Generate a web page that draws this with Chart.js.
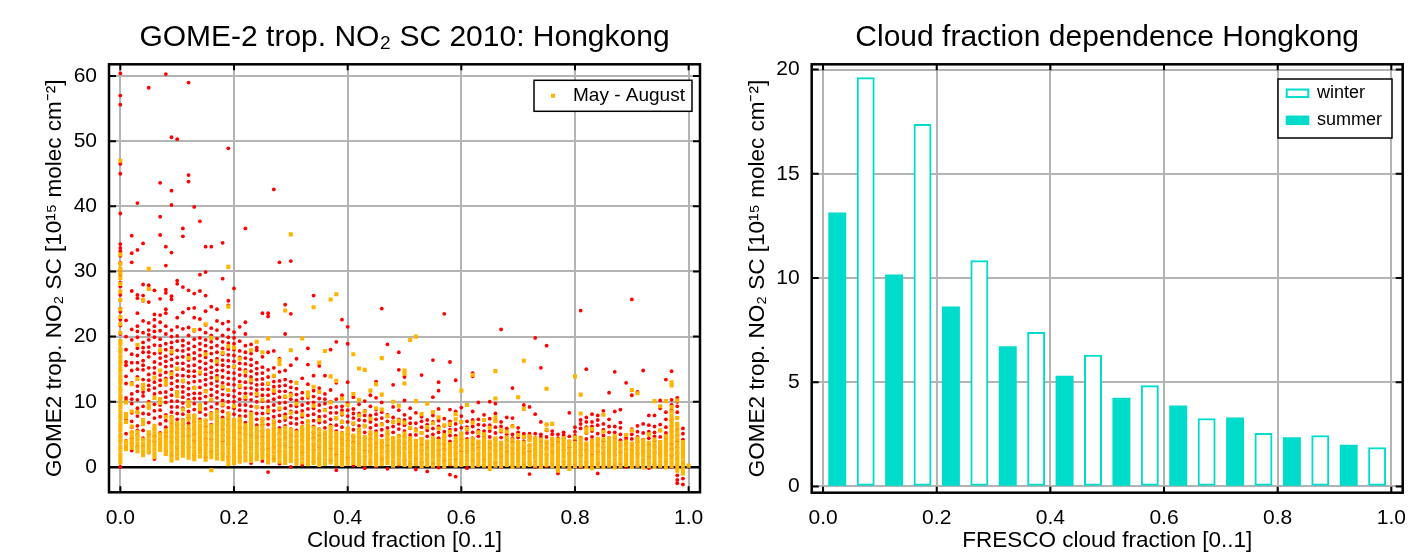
<!DOCTYPE html>
<html>
<head>
<meta charset="utf-8">
<script src="https://cdn.jsdelivr.net/npm/chart.js@4.4.1/dist/chart.umd.min.js"></script>
<style>
  html, body { margin: 0; padding: 0; background: #fff; overflow: hidden; }
  #wrap { position: relative; width: 1412px; height: 555px; }
  .panel { position: absolute; top: 0; height: 555px; }
</style>
</head>
<body>
<div id="wrap">
  <div class="panel" style="left:0;width:710px"><canvas id="scatterChart"></canvas></div>
  <div class="panel" style="left:710px;width:702px"><canvas id="barChart"></canvas></div>
</div>
<script>
// Left panel: one column per cloud fraction step of 0.01 (index 0 -> 0.00 ... 100 -> 1.00)
// all observations (red)
const allDaysNO2 = [
  [0, 20.4, 21.7, 22.6, 23.8, 24.3, 25.6, 26.4, 27.7, 28.3, 29.6, 30.2, 31.3, 32.4, 33.1, 33.6, 34.2, 38.9, 45.0, 46.5, 55.6, 57.0, 60.4],
  [2.8, 5.1, 7.3, 10.2, 10.6, 15.6, 16.1, 18.0, 22.5, 4.0, 12.8, 13.9, 20.0],
  [2.5, 3.6, 4.4, 6.1, 8.3, 9.7, 11.2, 12.9, 14.8, 17.3, 21.1, 27.0, 31.4, 32.8, 35.5, 5.3, 7.0, 10.4, 16.0, 19.5],
  [3.1, 4.9, 6.3, 7.8, 9.0, 11.6, 12.4, 13.8, 16.0, 18.2, 19.9, 21.6, 23.6, 25.9, 26.4, 33.3, 40.5, 5.6, 8.4, 10.3, 15.0, 17.1, 20.8],
  [1.9, 3.3, 5.6, 7.0, 9.3, 10.9, 12.1, 14.9, 16.3, 17.6, 19.1, 20.6, 25.5, 26.3, 28.0, 34.3, 4.4, 8.2, 11.5, 13.4, 15.6, 18.3, 22.4],
  [2.2, 4.0, 6.8, 8.1, 10.0, 11.8, 13.3, 15.2, 16.9, 18.4, 20.3, 22.1, 25.3, 27.9, 58.2, 5.0, 9.1, 12.5, 14.2, 17.6, 19.5, 21.0],
  [1.2, 3.9, 5.8, 7.5, 9.6, 11.2, 13.0, 14.4, 16.1, 18.7, 20.8, 22.6, 23.4, 27.1, 4.7, 8.6, 12.1, 15.2, 17.4, 19.9, 21.6],
  [3.5, 5.2, 6.6, 8.7, 10.4, 12.5, 14.1, 15.8, 17.5, 19.6, 22.2, 23.3, 25.8, 35.6, 38.4, 43.6, 4.3, 7.7, 9.5, 11.4, 13.3, 16.7, 18.6, 20.9],
  [2.4, 4.6, 6.1, 8.0, 9.9, 11.5, 13.6, 15.4, 17.0, 18.9, 20.4, 23.6, 24.2, 26.7, 27.2, 30.9, 33.8, 60.3, 5.3, 7.1, 10.7, 12.6, 14.5, 16.2, 18.0, 21.6],
  [1.7, 3.8, 5.5, 7.7, 9.2, 11.0, 12.8, 14.6, 16.5, 18.3, 20.0, 21.0, 25.7, 26.2, 32.9, 40.2, 42.4, 50.6, 4.6, 6.6, 8.4, 10.1, 11.9, 13.7, 15.5, 17.4, 19.1],
  [2.9, 4.3, 6.4, 8.2, 10.1, 11.4, 13.2, 15.0, 16.8, 19.3, 20.1, 22.9, 28.1, 28.6, 50.3, 5.3, 7.3, 9.2, 12.3, 14.1, 15.9, 17.9, 21.5],
  [2.1, 3.6, 5.9, 7.2, 9.0, 10.7, 12.3, 14.0, 15.9, 17.8, 19.4, 23.7, 27.6, 35.4, 36.6, 4.7, 6.5, 8.1, 9.8, 11.5, 13.1, 15.0, 16.9, 18.6, 21.2],
  [3.0, 4.8, 6.7, 8.5, 10.3, 12.0, 13.9, 15.5, 17.2, 19.0, 21.4, 24.3, 27.1, 43.8, 44.8, 59.0, 5.7, 7.6, 9.4, 11.1, 12.9, 14.7, 16.4, 18.1, 20.2],
  [1.8, 4.1, 6.0, 7.9, 9.7, 11.3, 13.1, 14.7, 16.6, 18.5, 20.9, 22.9, 24.4, 26.6, 39.9, 5.0, 6.9, 8.8, 10.5, 12.2, 13.9, 15.6, 17.5, 19.6],
  [2.7, 4.5, 6.2, 8.4, 10.5, 12.2, 14.3, 16.2, 18.0, 19.8, 22.7, 27.0, 29.5, 37.7, 5.3, 7.3, 9.4, 11.3, 13.2, 15.2, 17.1, 18.9, 21.1],
  [1.5, 3.4, 5.3, 7.1, 8.9, 10.8, 12.6, 14.2, 15.9, 17.7, 19.5, 21.8, 23.9, 26.3, 29.9, 33.8, 4.3, 6.2, 8.0, 9.8, 11.7, 13.4, 15.0, 16.8, 18.6, 20.6],
  [2.3, 4.2, 6.5, 8.3, 10.2, 11.9, 13.7, 15.3, 17.4, 19.2, 21.3, 24.6, 33.8, 5.3, 7.4, 9.2, 11.0, 12.8, 14.5, 16.3, 18.3, 20.2],
  [3.2, 5.0, 6.9, 8.8, 10.6, 12.4, 14.0, 15.7, 17.6, 19.7, 22.4, 24.2, 6.0, 7.8, 9.7, 11.5, 13.2, 14.8, 16.6, 18.6, 21.0],
  [2.0, 3.9, 5.7, 7.6, 9.4, 11.1, 12.9, 14.8, 16.4, 18.2, 20.2, 22.0, 28.9, 34.4, 4.8, 6.6, 8.5, 10.2, 12.0, 13.8, 15.6, 17.3, 19.2],
  [1.6, 3.5, 5.4, 7.4, 9.1, 11.0, 12.7, 14.5, 16.3, 18.1, 19.9, 22.3, 24.8, 25.5, 48.9, 4.5, 6.4, 8.2, 10.0, 11.8, 13.6, 15.4, 17.2, 19.0, 21.1],
  [2.6, 4.4, 6.3, 8.1, 10.0, 11.7, 13.5, 15.3, 17.1, 18.9, 20.7, 27.4, 5.4, 7.2, 9.0, 10.8, 12.6, 14.4, 16.2, 18.0, 19.8],
  [1.4, 3.3, 5.2, 7.0, 8.7, 10.4, 12.2, 14.1, 15.9, 17.8, 19.3, 21.5, 4.2, 6.1, 7.8, 9.5, 11.3, 13.1, 15.0, 16.8],
  [2.2, 4.0, 5.9, 7.8, 9.5, 11.3, 13.0, 14.9, 16.7, 18.6, 20.4, 22.2, 36.6, 5.0, 6.8, 8.6, 10.4, 12.1, 14.0, 15.8, 17.6],
  [0.6, 2.9, 4.8, 6.6, 8.4, 10.3, 12.1, 13.8, 15.6, 17.4, 18.8, 3.8, 5.7, 7.5, 9.3, 11.2, 12.9, 14.7, 16.5],
  [1.7, 3.6, 5.5, 7.3, 9.1, 10.9, 12.6, 14.3, 16.0, 17.9, 18.3, 4.6, 6.4, 8.2, 10.0, 11.8, 13.4, 15.1],
  [0.9, 2.7, 4.6, 6.5, 8.2, 10.1, 11.9, 13.5, 15.3, 23.6, 3.6, 5.5, 7.3, 9.1, 11.0, 12.7, 14.4, 16.9],
  [-0.8, 1.8, 3.7, 5.6, 7.4, 9.2, 11.0, 12.7, 14.9, 17.6, 23.1, 23.6, 2.8, 4.6, 6.5, 8.3, 10.1, 11.9, 13.8],
  [1.2, 3.0, 4.9, 6.8, 8.6, 10.4, 12.3, 13.9, 17.8, 42.6, 4.0, 5.9, 7.7, 9.5, 11.3, 13.1, 15.2],
  [0.5, 2.4, 4.2, 6.0, 7.9, 9.8, 11.6, 13.2, 16.6, 31.4, 3.3, 5.1, 7.0, 8.8, 10.7, 12.4, 14.6],
  [1.5, 3.4, 5.3, 7.2, 9.0, 10.7, 12.5, 13.4, 20.4, 24.9, 4.4, 6.3, 8.1, 9.9, 11.6, 14.8],
  [0.0, 2.1, 3.9, 5.8, 7.6, 9.4, 11.3, 13.1, 15.6, 23.5, 31.6, 3.0, 4.9, 6.7, 8.5, 10.4, 12.2],
  [1.1, 2.9, 4.7, 6.6, 8.4, 10.2, 12.0, 16.6, 3.8, 5.6, 7.4, 9.3, 11.1],
  [0.3, 2.2, 4.1, 5.9, 7.7, 9.5, 11.4, 13.6, 3.1, 5.0, 6.8, 8.6, 10.5],
  [1.6, 3.4, 5.2, 7.0, 8.9, 10.6, 12.7, 15.7, 18.2, 4.3, 6.1, 7.9, 9.8],
  [0.8, 2.6, 4.4, 6.2, 8.1, 9.9, 11.7, 14.0, 26.3, 3.5, 5.3, 7.1, 9.0, 10.8],
  [1.3, 3.1, 4.9, 6.8, 8.6, 10.5, 12.1, 15.5, 4.0, 5.8, 7.7, 9.5],
  [0.5, 2.3, 4.2, 6.0, 7.8, 9.7, 11.2, 14.0, 3.2, 5.1, 6.9, 8.8, 10.4],
  [1.0, 2.8, 4.6, 6.4, 8.3, 10.0, 11.8, 18.0, 3.7, 5.5, 7.3, 9.1],
  [-0.5, 1.9, 3.7, 5.5, 7.4, 9.2, 10.4, 12.9, 19.2, 2.8, 4.6, 6.4, 8.3],
  [0.7, 2.5, 4.3, 6.1, 8.0, 9.3, 11.0, 22.6, 3.4, 5.2, 7.0, 8.7],
  [1.4, 3.2, 5.0, 6.9, 8.7, 9.8, 13.0, 18.9, 21.5, 4.1, 5.9, 7.8],
  [0.2, 2.0, 3.8, 5.7, 7.5, 8.9, 10.7, 2.9, 4.7, 6.6, 8.2],
  [0.9, 2.7, 4.5, 6.3, 8.2, 9.6, 3.6, 5.4, 7.2],
  [-0.2, 1.6, 3.4, 5.3, 7.1, 8.6, 10.1, 2.5, 4.4, 6.2, 7.9],
  [0.6, 2.4, 4.2, 6.0, 7.9, 9.3, 11.0, 3.3, 5.1, 6.9],
  [0.1, 1.9, 3.7, 5.5, 7.3, 8.8, 10.6, 13.1, 2.8, 4.6, 6.4, 8.1],
  [1.1, 2.9, 4.8, 6.6, 8.4, 9.9, 24.3, 3.8, 5.7, 7.5],
  [-0.3, 1.5, 3.3, 5.1, 7.0, 8.0, 18.8, 2.4, 4.2, 6.0],
  [0.8, 2.6, 4.4, 6.2, 7.6, 9.2, 12.6, 3.5, 5.3, 7.0],
  [0.3, 2.1, 3.9, 5.8, 7.3, 8.7, 14.9, 17.6, 3.0, 4.8, 6.6],
  [1.0, 2.8, 4.6, 6.4, 8.0, 10.2, 13.8, 3.7, 5.5, 7.2],
  [0.4, 2.2, 4.0, 5.9, 7.5, 9.0, 3.1, 4.9, 6.7],
  [-0.4, 1.3, 3.1, 4.9, 6.7, 8.3, 2.2, 4.0, 5.8],
  [0.7, 2.5, 4.3, 6.1, 7.7, 14.1, 3.4, 5.2, 7.0],
  [-0.7, 1.1, 2.9, 4.7, 6.5, 7.2, 2.0, 3.8, 5.6],
  [0.5, 2.3, 4.1, 5.9, 7.9, 10.7, 16.4, 3.2, 5.0, 6.9],
  [-0.1, 1.7, 3.5, 5.3, 7.1, 8.9, 11.7, 13.0, 2.6, 4.4, 6.2],
  [0.9, 2.7, 4.5, 6.3, 7.4, 23.5, 3.6, 5.4],
  [-1.2, 0.3, 2.1, 3.9, 5.7, 7.0, 8.8, 16.1, 3.0, 4.8, 6.4],
  [-1.5, 1.2, 3.0, 4.8, 6.6, 8.5, 13.3, 2.1, 3.9, 5.7],
  [0.6, 2.4, 4.2, 6.0, 7.8, 9.1, 3.3, 5.1, 6.9],
  [-0.2, 1.6, 3.4, 5.2, 7.0, 2.5, 4.3, 6.1],
  [0.8, 2.6, 4.4, 6.2, 8.5, 13.9, 14.4, 3.5, 5.3, 7.2],
  [0.2, 2.0, 3.8, 5.6, 7.3, 9.9, 2.9, 4.7, 6.5],
  [1.0, 2.8, 4.6, 6.4, 8.0, 3.7, 5.5],
  [0.1, 1.9, 3.7, 5.5, 7.4, 10.0, 2.8, 4.6, 6.4],
  [0.7, 2.5, 4.3, 6.1, 8.2, 9.7, 3.4, 5.2, 7.1],
  [0.0, 1.8, 3.6, 5.4, 6.9, 21.1, 2.7, 4.5, 6.2],
  [0.5, 2.3, 4.1, 5.9, 7.6, 3.2, 5.0],
  [0.2, 2.0, 3.8, 5.0, 7.5, 12.1, 2.9, 4.4, 6.3],
  [0.9, 2.7, 4.5, 6.0, 3.6, 5.3],
  [0.3, 2.1, 3.9, 5.1, 9.5, 3.0, 4.5],
  [-1.1, 0.6, 2.4, 4.2, 5.1, 9.2, 3.3, 4.7],
  [0.0, 1.8, 3.6, 5.1, 8.1, 19.8, 2.7, 4.4],
  [0.4, 2.2, 4.0, 5.0, 6.9, 15.2, 3.1, 4.6],
  [0.1, 1.9, 3.7, 6.5, 18.6, 2.8, 4.6, 5.6],
  [0.6, 2.4, 4.2, 5.5, 3.3, 5.0],
  [-1.0, 0.2, 2.0, 3.8, 5.0, 2.9, 4.4],
  [0.8, 2.6, 4.4, 5.3, 3.5, 4.9],
  [0.3, 2.1, 3.9, 8.3, 3.0, 4.7],
  [0.5, 2.3, 4.1, 5.4, 6.1, 3.2, 4.8],
  [0.0, 1.8, 3.6, 5.9, 7.2, 24.0, 2.7, 4.5, 6.6],
  [0.7, 2.5, 4.3, 6.1, 7.6, 15.0, 3.4, 5.2, 6.9],
  [0.2, 2.0, 3.8, 5.5, 6.9, 8.1, 2.9, 4.6, 6.2],
  [-1.0, 0.6, 2.4, 4.2, 6.4, 7.9, 3.3, 5.1, 7.2],
  [0.3, 2.1, 3.9, 5.7, 8.6, 3.0, 4.8, 6.6],
  [0.8, 2.6, 4.4, 6.2, 11.4, 3.5, 5.3, 7.3],
  [0.1, 1.9, 3.7, 5.3, 8.5, 14.6, 2.8, 4.5, 6.2],
  [0.5, 2.3, 4.1, 6.0, 8.8, 3.2, 5.0, 6.8],
  [0.0, 1.8, 3.6, 4.2, 12.9, 2.7, 4.5],
  [0.7, 2.5, 4.3, 5.0, 11.0, 25.7, 3.4, 5.8],
  [0.2, 2.0, 3.8, 5.4, 11.5, 2.9, 4.6, 6.3],
  [0.6, 2.4, 4.2, 6.6, 14.8, 3.3, 5.2],
  [-0.2, 1.6, 3.4, 5.4, 7.9, 2.5, 4.4, 6.4],
  [0.4, 2.2, 4.0, 5.3, 7.9, 3.1, 4.7, 6.2],
  [0.1, 1.9, 3.7, 5.6, 9.0, 10.2, 2.8, 4.6, 6.5],
  [0.7, 2.5, 4.3, 6.1, 7.3, 13.4, 3.4, 5.2, 8.4],
  [0.0, 1.8, 3.6, 5.4, 7.2, 8.7, 10.3, 14.7, 2.7, 4.5, 6.3, 9.5],
  [-2.5, -2.0, -1.3, 0.3, 2.1, 3.9, 5.7, 7.5, 9.3, 10.0, 10.6, 1.2, 3.0, 4.8, 6.6, 8.4],
  [-2.7, -1.8, 0.6, 2.4, 4.2, 5.9, 1.5, 3.3, 5.1],
  []
];

// May - August observations (orange)
const mayAugNO2 = [
  [0.7, 1.3, 1.9, 2.6, 3.1, 3.8, 4.3, 4.9, 5.6, 6.2, 6.7, 7.4, 7.9, 8.5, 9.2, 9.7, 10.4, 10.9, 11.6, 12.1, 12.8, 13.3, 13.9, 14.6, 15.1, 15.8, 16.3, 16.9, 17.6, 18.1, 18.8, 19.3, 20.6, 21.9, 23.0, 24.2, 25.6, 26.9, 28.1, 29.0, 29.7, 30.4, 31.2, 32.6, 47.0],
  [2.7, 3.3, 3.9, 6.9, 7.6, 8.1, 9.9],
  [2.9, 3.5, 4.1, 4.7, 5.3, 6.2, 8.5, 12.7],
  [2.4, 3.0, 3.6, 4.2, 4.8, 5.4, 8.4, 13.5, 18.7],
  [1.8, 2.4, 3.0, 3.6, 4.2, 6.6, 7.2, 12.0, 12.6, 25.6],
  [2.3, 2.9, 3.5, 4.1, 4.7, 5.3, 9.1, 9.7, 27.3, 30.4],
  [1.5, 2.1, 2.7, 3.3, 3.9, 4.5, 5.1, 5.7, 6.3, 10.6, 13.7],
  [2.6, 3.2, 3.8, 4.4, 5.0, 9.8, 10.4, 14.8, 17.9],
  [2.0, 2.6, 3.2, 3.8, 4.4, 5.0, 5.6, 7.7, 12.7, 13.3],
  [1.0, 1.6, 2.2, 2.8, 3.4, 4.0, 4.6, 5.2, 5.8, 6.4, 7.0, 7.6, 14.3, 17.7],
  [1.3, 1.9, 2.5, 3.1, 3.7, 4.3, 4.9, 5.5, 6.1, 6.7, 10.9, 11.5, 15.1],
  [1.7, 2.3, 2.9, 3.5, 4.1, 4.7, 5.3, 5.9, 6.5, 7.1, 8.8, 13.2],
  [1.4, 2.0, 2.6, 3.2, 3.8, 4.4, 5.0, 5.6, 6.2, 7.3, 7.9, 9.4, 10.0, 16.7],
  [1.2, 1.8, 2.4, 3.0, 3.6, 4.2, 4.8, 5.4, 6.0, 6.6, 7.2, 7.8, 12.1, 21.0],
  [1.6, 2.2, 2.8, 3.4, 4.0, 4.6, 5.2, 5.8, 6.4, 7.0, 8.9, 9.5, 14.5],
  [1.1, 1.7, 2.3, 2.9, 3.5, 4.1, 4.7, 5.3, 5.9, 6.5, 7.1, 11.6, 17.3, 21.9],
  [-0.5, 1.5, 2.1, 2.7, 3.3, 3.9, 4.5, 5.1, 5.7, 6.3, 7.5, 8.1, 10.3, 19.8],
  [1.3, 1.9, 2.5, 3.1, 3.7, 4.3, 4.9, 5.5, 6.1, 6.7, 7.3, 7.9, 8.5, 13.6, 16.2],
  [1.2, 1.8, 2.4, 3.0, 3.6, 4.2, 4.8, 5.4, 6.0, 6.6, 7.2, 9.6, 12.3, 17.5],
  [0.4, 1.0, 1.6, 2.2, 2.8, 3.4, 4.0, 4.6, 5.2, 5.8, 6.4, 7.0, 7.6, 8.2, 11.8, 18.5, 24.6, 30.7],
  [0.6, 1.2, 1.8, 2.4, 3.0, 3.6, 4.2, 4.8, 5.4, 6.0, 6.6, 7.2, 9.3, 15.4, 18.3],
  [0.8, 1.4, 2.0, 2.6, 3.2, 3.8, 4.4, 5.0, 5.6, 6.2, 6.8, 7.4, 12.4, 16.6],
  [1.0, 1.6, 2.2, 2.8, 3.4, 4.0, 4.6, 5.2, 5.8, 6.4, 10.7, 14.6],
  [0.9, 1.5, 2.1, 2.7, 3.3, 3.9, 4.5, 5.1, 5.7, 6.3, 6.9, 7.5, 8.1, 13.3, 17.9],
  [1.2, 1.8, 2.4, 3.0, 3.6, 4.2, 4.8, 5.4, 6.0, 9.2, 11.2, 19.2],
  [1.4, 2.0, 2.6, 3.2, 3.8, 4.4, 5.0, 5.6, 6.2, 6.8, 7.4, 10.3, 17.6],
  [0.7, 1.3, 1.9, 2.5, 3.1, 3.7, 4.3, 4.9, 5.5, 8.6, 12.8, 19.7],
  [1.0, 1.6, 2.2, 2.8, 3.4, 4.0, 4.6, 5.2, 5.8, 6.4, 7.0, 11.7, 14.0],
  [0.8, 1.4, 2.0, 2.6, 3.2, 3.8, 4.4, 5.0, 5.6, 9.0, 15.8, 16.4],
  [0.6, 1.2, 1.8, 2.4, 3.0, 3.6, 4.2, 4.8, 5.4, 6.0, 7.6, 10.8, 24.0],
  [0.9, 1.5, 2.1, 2.7, 3.3, 3.9, 4.5, 5.1, 5.7, 8.3, 11.0, 17.9, 35.7],
  [0.5, 1.1, 1.7, 2.3, 2.9, 3.5, 4.1, 4.7, 5.3, 9.7, 12.9],
  [0.7, 1.3, 1.9, 2.5, 3.1, 3.7, 4.3, 4.9, 5.5, 6.1, 8.0, 19.7],
  [0.4, 1.0, 1.6, 2.2, 2.8, 3.4, 4.0, 4.6, 5.2, 5.8, 6.4, 7.0, 10.8, 11.4],
  [0.6, 1.2, 1.8, 2.4, 3.0, 3.6, 4.2, 4.8, 5.4, 6.0, 9.4, 12.3, 24.5],
  [0.3, 0.9, 1.5, 2.1, 2.7, 3.3, 3.9, 4.5, 5.1, 5.7, 7.2, 11.5, 16.0],
  [0.5, 1.1, 1.7, 2.3, 2.9, 3.5, 4.1, 4.7, 5.3, 8.7, 17.8],
  [0.7, 1.3, 1.9, 2.5, 3.1, 3.7, 4.3, 4.9, 5.5, 6.1, 9.9, 13.9, 25.7],
  [0.4, 1.0, 1.6, 2.2, 2.8, 3.4, 4.0, 4.6, 5.2, 7.5, 13.2, 26.5],
  [0.3, 0.9, 1.5, 2.1, 2.7, 3.3, 3.9, 4.5, 5.1, 6.9, 8.2, 10.5],
  [0.5, 1.1, 1.7, 2.3, 2.9, 3.5, 4.1, 4.7, 5.3, 5.9, 9.5],
  [0.6, 1.2, 1.8, 2.4, 3.0, 3.6, 4.2, 4.8, 6.7, 11.2, 17.3],
  [0.3, 0.9, 1.5, 2.1, 2.7, 3.3, 3.9, 4.5, 5.1, 5.7, 7.9, 10.3, 15.1],
  [0.4, 1.0, 1.6, 2.2, 2.8, 3.4, 4.0, 4.6, 6.3, 8.5, 14.9],
  [0.5, 1.1, 1.7, 2.3, 2.9, 3.5, 4.1, 4.7, 5.3, 7.4, 11.7],
  [0.3, 0.9, 1.5, 2.1, 2.7, 3.3, 3.9, 4.5, 5.1, 9.0, 12.7],
  [0.4, 1.0, 1.6, 2.2, 2.8, 3.4, 4.0, 6.5, 8.8, 11.1, 16.7],
  [0.6, 1.2, 1.8, 2.4, 3.0, 3.6, 4.2, 4.8, 5.4, 7.8],
  [0.2, 0.8, 1.4, 2.0, 2.6, 3.2, 3.8, 4.4, 6.9, 10.0],
  [0.5, 1.1, 1.7, 2.3, 2.9, 3.5, 4.1, 4.7, 7.1, 9.4],
  [0.3, 0.9, 1.5, 2.1, 2.7, 3.3, 3.9, 4.5, 5.1, 6.8, 12.8, 14.3, 14.8],
  [0.2, 0.8, 1.4, 2.0, 2.6, 3.2, 3.8, 4.4, 6.0, 19.5],
  [0.4, 1.0, 1.6, 2.2, 2.8, 3.4, 4.0, 5.6, 10.1, 20.0],
  [0.1, 0.7, 1.3, 1.9, 2.5, 3.1, 3.7, 4.3, 5.2, 8.1],
  [0.3, 0.9, 1.5, 2.1, 2.7, 3.3, 3.9, 6.1, 9.7],
  [0.2, 0.8, 1.4, 2.0, 2.6, 3.2, 3.8, 4.4, 6.7, 8.4],
  [0.4, 1.0, 1.6, 2.2, 2.8, 3.4, 4.0, 5.9, 7.6],
  [0.1, 0.7, 1.3, 1.9, 2.5, 3.1, 3.7, 4.3, 4.9, 6.4],
  [0.5, 1.1, 1.7, 2.3, 2.9, 3.5, 5.4, 6.6],
  [0.2, 0.8, 1.4, 2.0, 2.6, 3.2, 3.8, 4.4, 7.3, 8.1],
  [0.3, 0.9, 1.5, 2.1, 2.7, 3.3, 3.9, 4.5, 5.1, 6.9, 11.7],
  [0.4, 1.0, 1.6, 2.2, 2.8, 3.4, 4.0, 5.8, 9.5],
  [0.1, 0.7, 1.3, 1.9, 2.5, 3.1, 3.7, 4.3, 6.8, 14.1],
  [0.3, 0.9, 1.5, 2.1, 2.7, 3.3, 3.9, 5.3],
  [0.2, 0.8, 1.4, 2.0, 2.6, 3.2, 3.8, 4.4, 5.0, 7.2],
  [-0.3, 0.3, 0.9, 1.5, 2.1, 2.7, 3.3, 3.9, 6.0],
  [0.2, 0.8, 1.4, 2.0, 2.6, 3.2, 3.8, 4.4, 7.0, 7.6, 10.5, 14.7],
  [0.1, 0.7, 1.3, 1.9, 2.5, 3.1, 3.7, 5.6],
  [0.3, 0.9, 1.5, 2.1, 2.7, 3.3, 3.9, 4.5, 5.4],
  [0.0, 0.6, 1.2, 1.8, 2.4, 3.0, 3.6, 4.2, 6.2],
  [0.2, 0.8, 1.4, 2.0, 2.6, 3.2, 3.8, 4.9, 10.7],
  [0.1, 0.7, 1.3, 1.9, 2.5, 3.1, 3.7, 4.6, 8.9, 16.3],
  [0.3, 0.9, 1.5, 2.1, 2.7, 3.3, 4.1, 4.7],
  [0.2, 0.8, 1.4, 2.0, 2.6, 3.2, 3.8, 4.4],
  [0.0, 0.6, 1.2, 1.8, 2.4, 3.0, 3.6, 4.2],
  [0.3, 0.9, 1.5, 2.1, 2.7, 3.3, 3.9, 5.7, 6.5, 12.0],
  [0.1, 0.7, 1.3, 1.9, 2.5, 3.1, 3.7, 4.3, 6.6],
  [-0.6, 0.0, 0.6, 1.2, 1.8, 2.4, 3.0, 3.6, 4.2],
  [0.2, 0.8, 1.4, 2.0, 2.6, 3.2, 3.8, 4.4],
  [-0.3, 0.3, 0.9, 1.5, 2.1, 2.7, 3.3, 3.9],
  [0.1, 0.7, 1.3, 1.9, 2.5, 3.1, 3.7, 4.5, 13.9],
  [0.2, 0.8, 1.4, 2.0, 2.6, 3.2, 3.8, 4.4, 8.2, 11.1],
  [0.0, 0.6, 1.2, 1.8, 2.4, 3.0, 3.6, 5.3, 5.9],
  [-0.2, 0.4, 1.0, 1.6, 2.2, 2.8, 3.4, 4.0, 5.8],
  [0.1, 0.7, 1.3, 1.9, 2.5, 3.1, 3.7, 4.3],
  [0.0, 0.6, 1.2, 1.8, 2.4, 3.0, 3.6, 4.2, 5.4, 8.0],
  [0.2, 0.8, 1.4, 2.0, 2.6, 3.2, 3.8, 4.4],
  [-0.1, 0.5, 1.1, 1.7, 2.3, 2.9, 3.5, 4.1, 4.7],
  [0.1, 0.7, 1.3, 1.9, 2.5, 3.1, 3.7],
  [0.3, 0.9, 1.5, 2.1, 2.7, 3.3, 3.9, 4.9],
  [0.0, 0.6, 1.2, 1.8, 2.4, 3.0, 3.6, 5.6, 11.8],
  [0.2, 0.8, 1.4, 2.0, 2.6, 3.2, 3.8, 4.4, 11.3],
  [-0.1, 0.5, 1.1, 1.7, 2.3, 2.9, 3.5, 4.1],
  [0.1, 0.7, 1.3, 1.9, 2.5, 3.1, 3.7, 5.0],
  [0.0, 0.6, 1.2, 1.8, 2.4, 3.0, 3.6, 4.2, 10.1],
  [0.2, 0.8, 1.4, 2.0, 2.6, 3.2, 3.8, 5.6, 9.3],
  [-0.1, 0.5, 1.1, 1.7, 2.3, 2.9, 3.5, 4.1, 4.7, 10.1],
  [0.1, 0.7, 1.3, 1.9, 2.5, 3.1, 3.7, 4.3, 4.9, 5.5, 6.1, 6.7, 7.3, 7.9, 8.5, 9.2, 12.5, 13.0],
  [-0.6, 0.0, 0.6, 1.2, 1.8, 2.4, 3.0, 3.6, 4.2, 4.8, 5.4, 6.0, 6.6, 7.5, 10.2],
  [-1.0, -0.4, 0.2, 0.8, 1.4, 2.0, 2.6, 3.2, 3.8],
  [0.2]
];

// Right panel: mean NO2 per cloud fraction bin
const summerBins = [0.025, 0.125, 0.225, 0.325, 0.425, 0.525, 0.625, 0.725, 0.825, 0.925];
const winterBins = [0.075, 0.175, 0.275, 0.375, 0.475, 0.575, 0.675, 0.775, 0.875, 0.975];
const summerNO2 = [13.12, 10.15, 8.62, 6.71, 5.30, 4.24, 3.87, 3.29, 2.34, 1.99];
const winterNO2 = [19.61, 17.37, 10.83, 7.39, 6.30, 4.84, 3.26, 2.55, 2.44, 1.87];

const RED = 'rgb(255,0,0)';
const ORANGE = 'rgb(255,180,0)';
const TEAL = 'rgb(0,220,204)';
const GRID = '#b4b4b4';

Chart.defaults.font.family = '"Liberation Sans", Arial, Helvetica, sans-serif';
Chart.defaults.color = '#000';

function toPoints(columns) {
  const pts = [];
  columns.forEach((col, i) => {
    col.forEach(v => pts.push({ x: i / 100, y: v }));
  });
  return pts;
}

// black box round the plot area plus small inward tick marks
const framePlugin = {
  id: 'frame',
  afterDatasetsDraw(chart) {
    const { ctx, chartArea: a, scales } = chart;
    const x = scales.x, y = scales.y;
    ctx.save();
    ctx.strokeStyle = '#000';
    ctx.lineWidth = 2;
    ctx.beginPath();
    x.ticks.forEach(t => {
      const px = x.getPixelForValue(t.value);
      ctx.moveTo(px, a.bottom); ctx.lineTo(px, a.bottom - 6);
      ctx.moveTo(px, a.top); ctx.lineTo(px, a.top + 6);
    });
    y.ticks.forEach(t => {
      const py = y.getPixelForValue(t.value);
      ctx.moveTo(a.left, py); ctx.lineTo(a.left + 7, py);
      ctx.moveTo(a.right, py); ctx.lineTo(a.right - 7, py);
    });
    ctx.stroke();
    ctx.lineWidth = 2.5;
    ctx.strokeRect(a.left, a.top, a.right - a.left, a.bottom - a.top);
    ctx.restore();
  }
};

// legend in a framed box inside the plot area
const boxLegendPlugin = {
  id: 'boxLegend',
  afterDraw(chart, args, o) {
    const { ctx, chartArea: a } = chart;
    const left = a.right - o.right - o.width;
    const top = a.top + o.top;
    ctx.save();
    ctx.fillStyle = '#fff';
    ctx.fillRect(left, top, o.width, o.height);
    ctx.strokeStyle = '#000';
    ctx.lineWidth = 1.5;
    ctx.strokeRect(left, top, o.width, o.height);
    ctx.font = o.fontSize + 'px ' + Chart.defaults.font.family;
    ctx.textBaseline = 'middle';
    chart.data.datasets.filter(d => d.inLegend).forEach((d, i) => {
      const cy = top + o.rowTop + i * o.rowGap;
      const sx = left + o.swatchX;
      if (o.kind === 'point') {
        const s = o.swatchW;
        ctx.fillStyle = d.backgroundColor;
        ctx.fillRect(sx - s / 2, cy - s / 2, s, s);
      } else if (d.backgroundColor === '#fff') {
        ctx.strokeStyle = d.borderColor;
        ctx.lineWidth = 2;
        ctx.strokeRect(sx + 1, cy - o.swatchH / 2 + 1, o.swatchW - 2, o.swatchH - 2);
      } else {
        ctx.fillStyle = d.backgroundColor;
        ctx.fillRect(sx, cy - o.swatchH / 2, o.swatchW, o.swatchH);
      }
      ctx.fillStyle = '#000';
      ctx.fillText(d.label, left + o.textX, cy);
    });
    ctx.restore();
  }
};

const yTitleText = 'GOME2 trop. NO\u2082 SC [10\u00b9\u2075 molec cm\u207b\u00b2]';

function gridOpts(zeroBlack) {
  return {
    drawTicks: false,
    offset: false,
    color: c => (zeroBlack && c.tick && c.tick.value === 0) ? '#000' : GRID,
    lineWidth: c => (zeroBlack && c.tick && c.tick.value === 0) ? 2.5 : 2
  };
}

// keep the plot box where the reference has it: no extra room for edge labels
function fixX(h) {
  return s => { s.height = h; s.paddingLeft = 0; s.paddingRight = 0; };
}
function fixY(w) {
  return s => { s.width = w; s.paddingTop = 0; s.paddingBottom = 0; };
}

new Chart(document.getElementById('scatterChart'), {
  type: 'scatter',
  data: {
    datasets: [
      {
        label: 'all days',
        data: toPoints(allDaysNO2),
        pointStyle: 'circle',
        pointRadius: 1.9,
        backgroundColor: RED,
        borderWidth: 0,
        order: 2
      },
      {
        label: 'May - August',
        inLegend: true,
        data: toPoints(mayAugNO2),
        pointStyle: 'rect',
        pointRadius: 2.9,
        backgroundColor: ORANGE,
        borderWidth: 0,
        order: 1
      }
    ]
  },
  options: {
    responsive: true,
    maintainAspectRatio: false,
    animation: false,
    events: [],
    layout: { padding: { left: 0, right: 10, top: 0, bottom: 0 } },
    plugins: {
      legend: { display: false },
      tooltip: { enabled: false },
      title: {
        display: true,
        fullSize: false,
        text: 'GOME-2 trop. NO\u2082 SC 2010: Hongkong',
        color: '#000',
        font: { size: 30, weight: 'normal' },
        padding: { top: 20, bottom: 8.3 }
      },
      boxLegend: {
        kind: 'point', right: 8, top: 16, width: 158, height: 31,
        rowTop: 15.5, rowGap: 27, swatchX: 19, swatchW: 4, textX: 39, fontSize: 19
      }
    },
    scales: {
      x: {
        type: 'linear',
        min: -0.02,
        max: 1.02,
        afterFit: fixX(62.7),
        border: { display: false },
        grid: gridOpts(false),
        ticks: {
          stepSize: 0.2, includeBounds: false, padding: 13, maxRotation: 0,
          font: { size: 21 }, color: '#000',
          callback: v => Number(v).toFixed(1)
        },
        title: {
          display: true, text: 'Cloud fraction [0..1]', color: '#000',
          font: { size: 22.5 }, padding: { top: 0, bottom: 1 }
        }
      },
      y: {
        min: -3.9,
        max: 61.8,
        afterFit: fixY(109),
        border: { display: false },
        grid: gridOpts(true),
        ticks: { stepSize: 10, includeBounds: false, padding: 12, font: { size: 21 }, color: '#000' },
        title: {
          display: true, text: yTitleText, color: '#000',
          font: { size: 22.5 }, padding: { top: 41, bottom: 0 }
        }
      }
    }
  },
  plugins: [framePlugin, boxLegendPlugin]
});

new Chart(document.getElementById('barChart'), {
  type: 'bar',
  data: {
    datasets: [
      {
        label: 'winter',
        inLegend: true,
        data: winterBins.map((b, i) => ({ x: b, y: winterNO2[i] })),
        backgroundColor: '#fff',
        borderColor: TEAL,
        borderWidth: 2,
        borderSkipped: false,
        grouped: false,
        barThickness: 17.3
      },
      {
        label: 'summer',
        inLegend: true,
        data: summerBins.map((b, i) => ({ x: b, y: summerNO2[i] })),
        backgroundColor: TEAL,
        borderWidth: 0,
        grouped: false,
        barThickness: 17.3
      }
    ]
  },
  options: {
    responsive: true,
    maintainAspectRatio: false,
    animation: false,
    events: [],
    layout: { padding: { left: 0, right: 9.3, top: 0, bottom: 0 } },
    plugins: {
      legend: { display: false },
      tooltip: { enabled: false },
      title: {
        display: true,
        fullSize: false,
        text: 'Cloud fraction dependence Hongkong',
        color: '#000',
        font: { size: 30, weight: 'normal' },
        padding: { top: 20, bottom: 8.3 }
      },
      boxLegend: {
        kind: 'bar', right: 10.7, top: 14.7, width: 114, height: 59,
        rowTop: 14.3, rowGap: 27, swatchX: 7.7, swatchW: 23.6, swatchH: 9.5, textX: 39, fontSize: 18
      }
    },
    scales: {
      x: {
        type: 'linear',
        min: -0.02,
        max: 1.02,
        offset: false,
        afterFit: fixX(62.3),
        border: { display: false },
        grid: gridOpts(false),
        ticks: {
          stepSize: 0.2, includeBounds: false, padding: 13, maxRotation: 0,
          font: { size: 21 }, color: '#000',
          callback: v => Number(v).toFixed(1)
        },
        title: {
          display: true, text: 'FRESCO cloud fraction [0..1]', color: '#000',
          font: { size: 22.5 }, padding: { top: 0, bottom: 1 }
        }
      },
      y: {
        min: -0.3,
        max: 20.25,
        afterFit: fixY(101.7),
        border: { display: false },
        grid: gridOpts(false),
        ticks: { stepSize: 5, includeBounds: false, padding: 12, font: { size: 21 }, color: '#000' },
        title: {
          display: true, text: yTitleText, color: '#000',
          font: { size: 22.5 }, padding: { top: 34, bottom: 0 }
        }
      }
    }
  },
  plugins: [framePlugin, boxLegendPlugin]
});
</script>
</body>
</html>
